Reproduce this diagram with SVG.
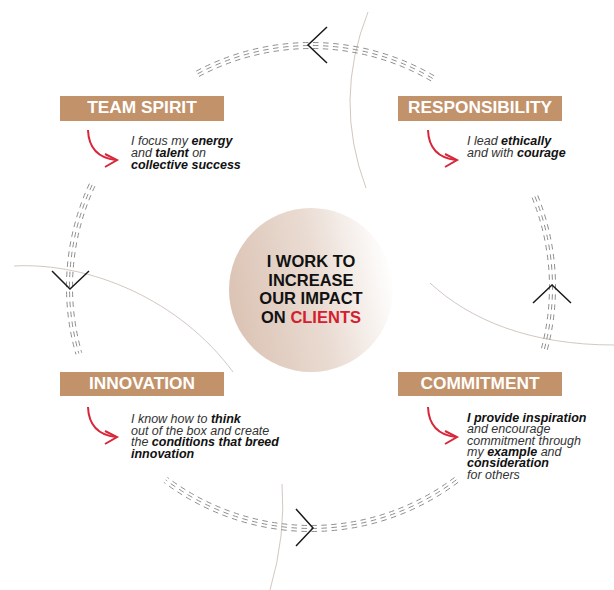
<svg xmlns="http://www.w3.org/2000/svg" width="614" height="590" viewBox="0 0 614 590">
<defs>
<linearGradient id="cg" x1="0" y1="0.6" x2="1" y2="0.4">
<stop offset="0" stop-color="#dbc3b4"/>
<stop offset="0.55" stop-color="#eadcd3"/>
<stop offset="1" stop-color="#ffffff"/>
</linearGradient>
<g id="redarrow">
<path d="M0,0 Q1,27 28,30" fill="none" stroke="#d8263a" stroke-width="2"/>
<path d="M17,24 L29,30 L17,37" fill="none" stroke="#d8263a" stroke-width="2"/>
</g>
</defs>
<style>
.box{fill:#c2926a}
.title{font-family:"Liberation Sans",Arial,sans-serif;font-weight:bold;font-size:17.3px;fill:#ffffff;text-anchor:middle}
.desc{font-family:"Liberation Sans",Arial,sans-serif;font-style:italic;font-size:12.5px;fill:#333333}
.b{font-weight:bold;fill:#111111}
.thin{fill:none;stroke:#d3c7bf;stroke-width:1}
.dash{fill:none;stroke:#8e8e8e;stroke-width:1}
.chev{fill:none;stroke:#1a1a1a;stroke-width:1.5}
.center{font-family:"Liberation Sans",Arial,sans-serif;font-weight:bold;font-size:16.5px;fill:#111111;text-anchor:middle}
</style>
<rect width="614" height="590" fill="#ffffff"/>

<g id="decor">
<path class="thin" d="M368,12 Q333,100 366,188"/>
<path class="thin" d="M282,484 Q286,535 270,590"/>
<path class="thin" d="M14,266 C90,262 180,300 233,372"/>
<path class="thin" d="M430,283 C470,320 530,345 614,345"/>
</g>

<g id="connectors">
<g id="arc-top">
<path class="dash" pathLength="248.7" stroke-dasharray="5.5 4.5" d="M199.03,76.43 A238.5,238.5 0 0 1 433.83,82.56"/>
<path class="dash" pathLength="248.7" stroke-dasharray="5.5 4.5" d="M197.62,73.78 A241.5,241.5 0 0 1 435.37,79.99"/>
<path class="dash" pathLength="248.7" stroke-dasharray="5.5 4.5" d="M196.21,71.13 A244.5,244.5 0 0 1 436.92,77.41"/>
<path class="chev" d="M327,27 L308,45 L327,63"/>
</g>
<g id="arc-left">
<path class="dash" pathLength="172.8" stroke-dasharray="5.5 4.5" d="M94.85,186.21 A238.5,238.5 0 0 0 81.73,352.73"/>
<path class="dash" pathLength="172.8" stroke-dasharray="5.5 4.5" d="M92.13,184.94 A241.5,241.5 0 0 0 78.85,353.56"/>
<path class="dash" pathLength="172.8" stroke-dasharray="5.5 4.5" d="M89.41,183.67 A244.5,244.5 0 0 0 75.96,354.38"/>
<path class="chev" d="M52,271 L70,289 L89,271"/>
</g>
<g id="arc-right">
<path class="dash" pathLength="156" stroke-dasharray="5.5 4.5" d="M532.13,197.66 A238.5,238.5 0 0 1 541.37,348.73"/>
<path class="dash" pathLength="156" stroke-dasharray="5.5 4.5" d="M534.92,196.53 A241.5,241.5 0 0 1 544.27,349.50"/>
<path class="dash" pathLength="156" stroke-dasharray="5.5 4.5" d="M537.70,195.41 A244.5,244.5 0 0 1 547.17,350.28"/>
<path class="chev" d="M533,303 L552,285 L571,303"/>
</g>
<g id="arc-bottom">
<path class="dash" pathLength="311.9" stroke-dasharray="5.5 4.5" d="M454.53,477.47 A238.5,238.5 0 0 1 167.47,477.47"/>
<path class="dash" pathLength="311.9" stroke-dasharray="5.5 4.5" d="M456.33,479.86 A241.5,241.5 0 0 1 165.67,479.86"/>
<path class="dash" pathLength="311.9" stroke-dasharray="5.5 4.5" d="M458.14,482.26 A244.5,244.5 0 0 1 163.86,482.26"/>
<path class="chev" d="M296,509 L313,528 L296,546"/>
</g>
</g>

<g id="center">
<circle cx="311" cy="290" r="82" fill="url(#cg)"/>
<text class="center" x="311" y="267">I WORK TO</text>
<text class="center" x="311" y="285.5">INCREASE</text>
<text class="center" x="311" y="304">OUR IMPACT</text>
<text class="center" x="311" y="322.5">ON <tspan fill="#d4202e">CLIENTS</tspan></text>
</g>

<g id="team-spirit">
<rect class="box" x="60" y="96" width="164" height="25"/>
<text class="title" x="142" y="113">TEAM SPIRIT</text>
<use href="#redarrow" x="88" y="130"/>
<text class="desc" x="131" y="145">I focus my <tspan class="b">energy</tspan></text>
<text class="desc" x="131" y="157">and <tspan class="b">talent</tspan> on</text>
<text class="desc" x="131" y="169"><tspan class="b">collective success</tspan></text>
</g>

<g id="responsibility">
<rect class="box" x="398" y="96" width="164" height="25"/>
<text class="title" x="480" y="113">RESPONSIBILITY</text>
<use href="#redarrow" x="428" y="130"/>
<text class="desc" x="467" y="145">I lead <tspan class="b">ethically</tspan></text>
<text class="desc" x="467" y="157">and with <tspan class="b">courage</tspan></text>
</g>

<g id="innovation">
<rect class="box" x="60" y="372" width="164" height="24"/>
<text class="title" x="142" y="389">INNOVATION</text>
<use href="#redarrow" x="88" y="407"/>
<text class="desc" x="131" y="423">I know how to <tspan class="b">think</tspan></text>
<text class="desc" x="131" y="434.7">out of the box and create</text>
<text class="desc" x="131" y="446.4">the <tspan class="b">conditions that breed</tspan></text>
<text class="desc" x="131" y="458"><tspan class="b">innovation</tspan></text>
</g>

<g id="commitment">
<rect class="box" x="398" y="372" width="164" height="24"/>
<text class="title" x="480" y="389">COMMITMENT</text>
<use href="#redarrow" x="428" y="407"/>
<text class="desc" x="467" y="422"><tspan class="b">I provide inspiration</tspan></text>
<text class="desc" x="467" y="433.3">and encourage</text>
<text class="desc" x="467" y="444.6">commitment through</text>
<text class="desc" x="467" y="456">my <tspan class="b">example</tspan> and</text>
<text class="desc" x="467" y="467.3"><tspan class="b">consideration</tspan></text>
<text class="desc" x="467" y="478.6">for others</text>
</g>
</svg>
